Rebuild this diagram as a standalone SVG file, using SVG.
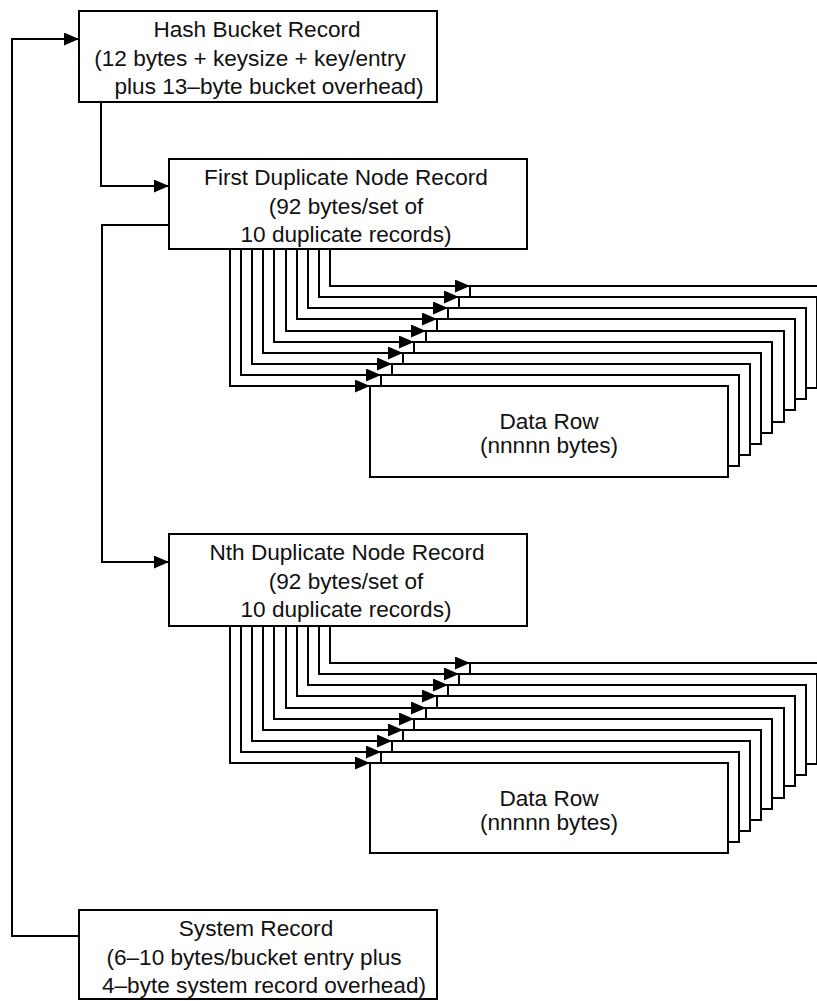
<svg xmlns="http://www.w3.org/2000/svg" width="817" height="1001" viewBox="0 0 817 1001">
  <style>
    .box { fill: #ffffff; stroke: #000000; stroke-width: 2; }
    .wire { fill: none; stroke: #000000; stroke-width: 2; marker-end: url(#arrow); }
    text { font-family: "Liberation Sans", Arial, sans-serif; font-size: 22.6px; fill: #111111; text-anchor: middle; }
  </style>
  <defs>
    <marker id="arrow" markerUnits="userSpaceOnUse" markerWidth="15" markerHeight="13" refX="15" refY="6.5" orient="auto">
      <path d="M0,0 L15,6.5 L0,13 Z" fill="#000000"/>
    </marker>
  </defs>
  <rect width="817" height="1001" fill="#ffffff"/>

  <!-- hash bucket record -->
  <g id="hash-bucket">
    <rect class="box" x="79" y="11" width="358" height="91"/>
    <text x="257" y="37">Hash Bucket Record</text>
    <text x="250" y="65.5">(12 bytes + keysize + key/entry</text>
    <text x="269" y="94">plus 13–byte bucket overhead)</text>
  </g>

  <!-- first duplicate node record -->
  <g id="first-dup">
    <rect class="box" x="169" y="159" width="358" height="90"/>
    <text x="346" y="185">First Duplicate Node Record</text>
    <text x="346" y="213.5">(92 bytes/set of</text>
    <text x="346" y="242">10 duplicate records)</text>
  </g>

  <!-- data rows behind the first duplicate node, drawn back to front -->
  <g id="data-rows-1">
    <rect class="box" x="470" y="286" width="358" height="91"/>
    <rect class="box" x="459" y="297" width="358" height="91"/>
    <rect class="box" x="448" y="308" width="358" height="91"/>
    <rect class="box" x="437" y="319" width="358" height="91"/>
    <rect class="box" x="426" y="331" width="358" height="91"/>
    <rect class="box" x="414" y="342" width="358" height="91"/>
    <rect class="box" x="403" y="353" width="358" height="91"/>
    <rect class="box" x="392" y="364" width="358" height="91"/>
    <rect class="box" x="381" y="375" width="358" height="91"/>
    <rect class="box" x="370" y="386" width="358" height="91"/>
    <text x="549" y="429">Data Row</text>
    <text x="549" y="453">(nnnnn bytes)</text>
  </g>

  <!-- nth duplicate node record -->
  <g id="nth-dup">
    <rect class="box" x="169" y="534" width="358" height="92"/>
    <text x="347" y="560">Nth Duplicate Node Record</text>
    <text x="346" y="588.5">(92 bytes/set of</text>
    <text x="346" y="617">10 duplicate records)</text>
  </g>

  <!-- data rows behind the nth duplicate node, drawn back to front -->
  <g id="data-rows-n">
    <rect class="box" x="470" y="663" width="358" height="90"/>
    <rect class="box" x="459" y="674" width="358" height="90"/>
    <rect class="box" x="448" y="685" width="358" height="90"/>
    <rect class="box" x="437" y="696" width="358" height="90"/>
    <rect class="box" x="426" y="708" width="358" height="90"/>
    <rect class="box" x="414" y="719" width="358" height="90"/>
    <rect class="box" x="403" y="730" width="358" height="90"/>
    <rect class="box" x="392" y="741" width="358" height="90"/>
    <rect class="box" x="381" y="752" width="358" height="90"/>
    <rect class="box" x="370" y="763" width="358" height="90"/>
    <text x="549" y="806">Data Row</text>
    <text x="549" y="830">(nnnnn bytes)</text>
  </g>

  <!-- system record -->
  <g id="system-record">
    <rect class="box" x="79" y="910" width="358" height="89"/>
    <text x="256" y="936">System Record</text>
    <text x="254" y="964.5">(6–10 bytes/bucket entry plus</text>
    <text x="264" y="993">4–byte system record overhead)</text>
  </g>

  <!-- connectors -->
  <g id="connectors">
    <path class="wire" d="M79,936 H12 V39 H79"/>
    <path class="wire" d="M101,102 V186 H169"/>
    <path class="wire" d="M169,225 H102 V562 H169"/>

    <path class="wire" d="M230,249 V386 H370"/>
    <path class="wire" d="M241,249 V375 H381"/>
    <path class="wire" d="M252,249 V364 H392"/>
    <path class="wire" d="M263,249 V353 H403"/>
    <path class="wire" d="M274,249 V342 H414"/>
    <path class="wire" d="M286,249 V331 H426"/>
    <path class="wire" d="M297,249 V319 H437"/>
    <path class="wire" d="M308,249 V308 H448"/>
    <path class="wire" d="M319,249 V297 H459"/>
    <path class="wire" d="M330,249 V286 H470"/>

    <path class="wire" d="M230,626 V763 H370"/>
    <path class="wire" d="M241,626 V752 H381"/>
    <path class="wire" d="M252,626 V741 H392"/>
    <path class="wire" d="M263,626 V730 H403"/>
    <path class="wire" d="M274,626 V719 H414"/>
    <path class="wire" d="M286,626 V708 H426"/>
    <path class="wire" d="M297,626 V696 H437"/>
    <path class="wire" d="M308,626 V685 H448"/>
    <path class="wire" d="M319,626 V674 H459"/>
    <path class="wire" d="M330,626 V663 H470"/>
  </g>
</svg>
